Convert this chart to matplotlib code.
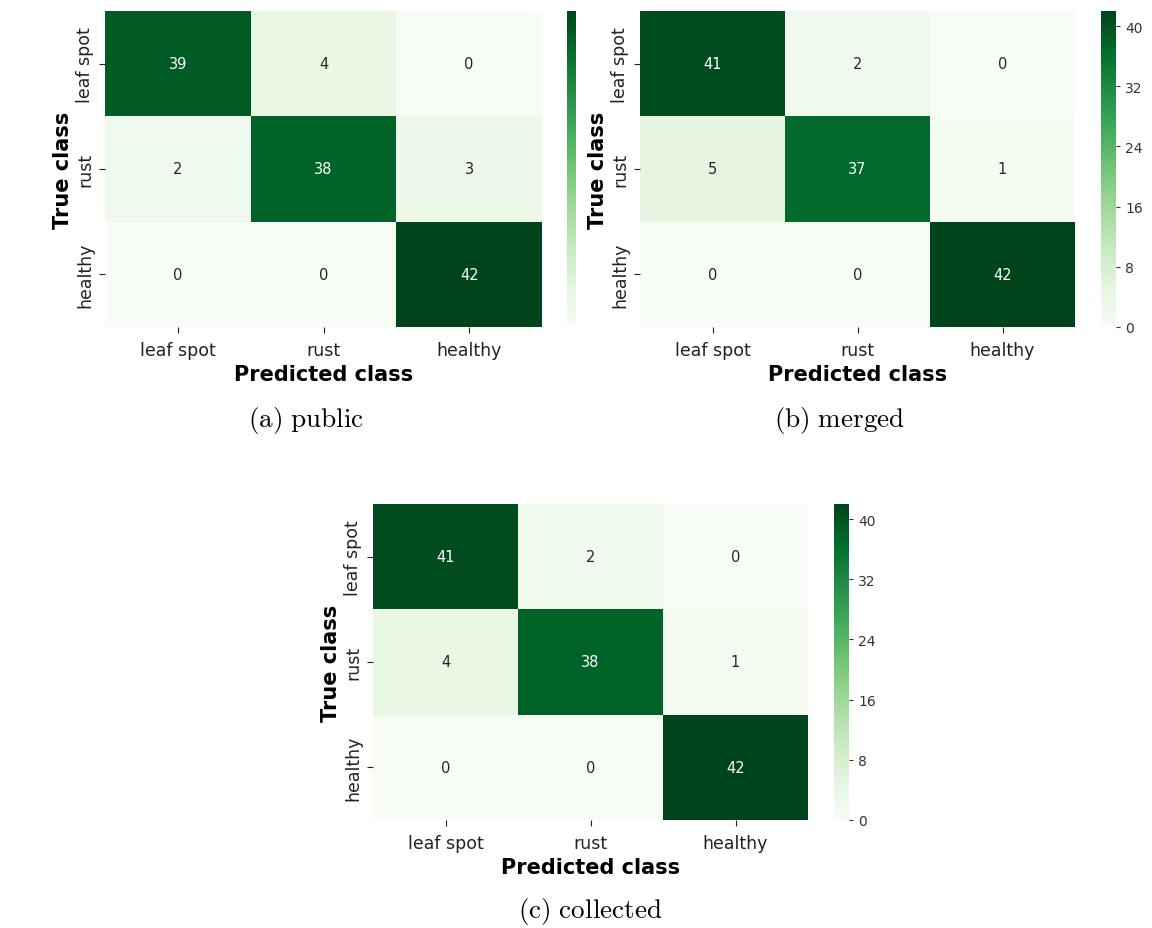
import numpy as np
import matplotlib
matplotlib.use("Agg")
import matplotlib.pyplot as plt
import seaborn as sns

# class names and confusion matrices
classes = ["leaf spot", "rust", "healthy"]
cm_public = [[39, 4, 0],
             [2, 38, 3],
             [0, 0, 42]]
cm_merged = [[41, 2, 0],
             [5, 37, 1],
             [0, 0, 42]]
cm_collected = [[41, 2, 0],
                [4, 38, 1],
                [0, 0, 42]]
captions = ["(a) public", "(b) merged", "(c) collected"]
cbar_ticks = [0, 8, 16, 24, 32, 40]

plt.rcParams["mathtext.fontset"] = "cm"

W, H = 1152, 929
fig = plt.figure(figsize=(W / 100, H / 100), dpi=100)


def box(x0, y0, x1, y1):
    # pixel box -> figure fraction [left, bottom, width, height]
    return [x0 / W, 1 - y1 / H, (x1 - x0) / W, (y1 - y0) / H]


panels = [
    # heatmap box, colorbar box, caption position, show cbar ticks
    (cm_public, box(105, 12, 542, 328), box(567, 12, 576, 328), (306, 421), False),
    (cm_merged, box(640, 12, 1075, 328), box(1101, 12, 1116, 328), (840, 421), True),
    (cm_collected, box(373, 505, 808, 821), box(834, 505, 849, 821), (590, 912), True),
]

for (cm, ax_pos, cb_pos, cap_xy, show_ticks), cap in zip(panels, captions):
    ax = fig.add_axes(ax_pos)
    cax = fig.add_axes(cb_pos)
    sns.heatmap(np.array(cm), annot=True, fmt="d", cmap="Greens",
                xticklabels=classes, yticklabels=classes,
                ax=ax, cbar_ax=cax, vmin=0,
                annot_kws={"fontsize": 10.5})
    ax.set_xlabel("Predicted class", fontsize=15, fontweight="bold", labelpad=4)
    ax.set_ylabel("True class", fontsize=15, fontweight="bold", labelpad=2)
    ax.tick_params(axis="both", labelsize=12.5, length=4, colors="#222222")
    ax.tick_params(axis="x", pad=6)
    ax.tick_params(axis="y", pad=4)
    ax.set_yticklabels(classes, rotation=90, va="center")
    cax.set_frame_on(False)
    if show_ticks:
        cax.set_yticks(cbar_ticks)
        cax.tick_params(labelsize=10, length=3, colors="#333333")
    else:
        cax.set_yticks([])
    cap_text = r"$\mathrm{" + cap.replace(" ", r"\ ") + "}$"
    fig.text(cap_xy[0] / W, 1 - cap_xy[1] / H, cap_text,
             ha="center", va="center", fontsize=19.5)

fig.savefig("out.png", dpi=100)
